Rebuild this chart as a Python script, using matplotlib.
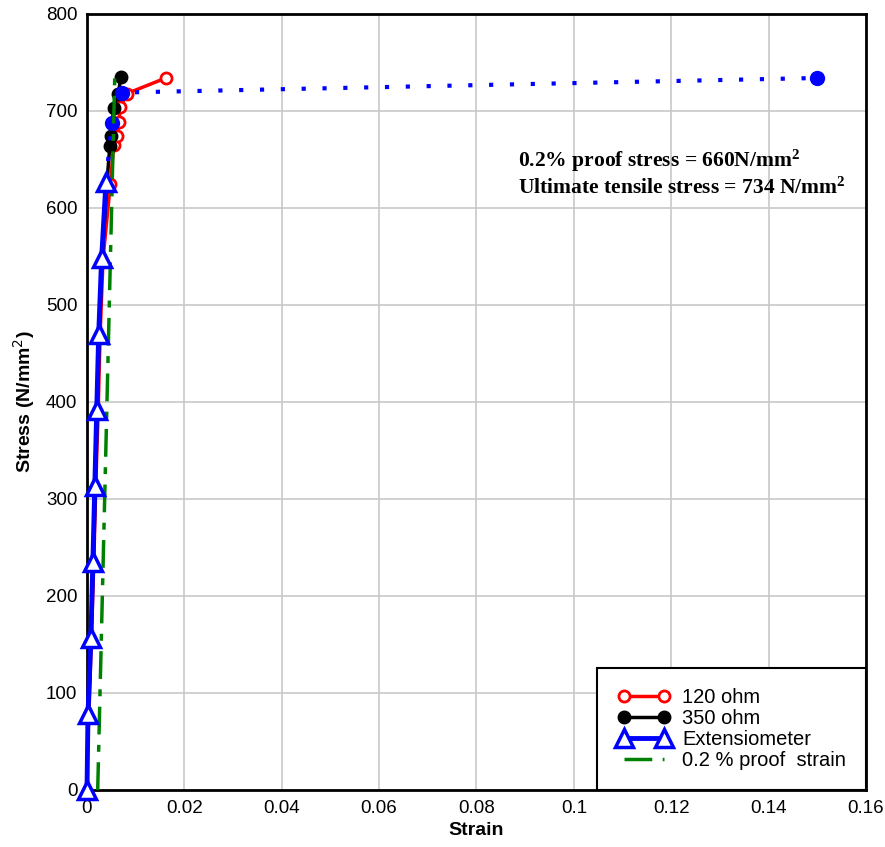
import matplotlib
matplotlib.use("Agg")
import matplotlib.pyplot as plt

# Data
stress_120 = [44, 78, 157, 235, 313, 392, 470, 548, 625, 665, 674, 689, 704, 718, 734]
strain_120 = [0.0001, 0.0004, 0.0009, 0.0014, 0.0018, 0.0023, 0.0027, 0.0033, 0.0048,
              0.0055, 0.0062, 0.0066, 0.0068, 0.0082, 0.0162]
stress_350 = [44, 78, 157, 235, 313, 392, 470, 548, 627, 664, 674, 703, 718, 735]
strain_350 = [0.0001, 0.0003, 0.0008, 0.0013, 0.0017, 0.0021, 0.0025, 0.0031, 0.0041,
              0.0047, 0.0049, 0.0055, 0.0064, 0.0070]
stress_ext = [0, 78, 157, 235, 313, 392, 470, 548, 627]
strain_ext = [0, 0.0002, 0.0008, 0.0012, 0.0016, 0.0020, 0.0024, 0.0030, 0.0039]
stress_ext2 = [627, 688, 719, 734]
strain_ext2 = [0.0039, 0.0051, 0.0072, 0.150]
proof_strain = [0.0022, 0.0057]
proof_stress = [0, 735]

x_ticks = [0, 0.02, 0.04, 0.06, 0.08, 0.1, 0.12, 0.14, 0.16]
x_ticklabels = ["0", "0.02", "0.04", "0.06", "0.08", "0.1", "0.12", "0.14", "0.16"]
y_ticks = [0, 100, 200, 300, 400, 500, 600, 700, 800]

plt.rcParams['font.family'] = ['Liberation Sans', 'DejaVu Sans']
plt.rcParams['mathtext.rm'] = 'Liberation Serif:bold'
plt.rcParams['mathtext.bf'] = 'Liberation Serif:bold'
plt.rcParams['mathtext.it'] = 'Liberation Serif:bold'

fig = plt.figure(figsize=(8.85, 8.47), dpi=100)
ax = fig.add_axes([0.0983, 0.0673, 0.8802, 0.9162])

ax.plot(strain_120, stress_120, color='red', lw=2.5, marker='o', ms=8,
        mfc='white', mec='red', mew=2, markevery=list(range(8, len(stress_120))),
        label='120 ohm', zorder=3)
ax.plot(strain_350, stress_350, color='black', lw=2.5, marker='o', ms=9,
        mfc='black', mec='black', markevery=list(range(9, len(stress_350))),
        label='350 ohm', zorder=3)
ax.plot(strain_ext2, stress_ext2, color='blue', lw=3, ls=(0, (1, 4)),
        marker='o', ms=10, mfc='blue', mec='blue', markevery=[1, 2, 3], zorder=4)
ax.plot(strain_ext, stress_ext, color='blue', lw=3.5, marker='^', ms=13,
        mfc='white', mec='blue', mew=2.5, label='Extensiometer', zorder=5,
        clip_on=False)
ax.plot(proof_strain, proof_stress, color='green', lw=2.5, ls=(0, (8, 3, 2, 3)),
        label='0.2 % proof  strain', zorder=4)

ax.set_xlim(0, 0.16)
ax.set_ylim(0, 800)
ax.set_xticks(x_ticks)
ax.set_xticklabels(x_ticklabels)
ax.set_yticks(y_ticks)
ax.tick_params(axis='both', length=0, labelsize=13.5, pad=7)
ax.grid(True, color='#c8c8c8', lw=1.2)
ax.set_axisbelow(True)
for s in ax.spines.values():
    s.set_linewidth(2)
    s.set_color('black')

ax.set_xlabel('Strain', fontsize=14, fontweight='bold', labelpad=4)
ylab = ax.set_ylabel('Stress (N/mm$^{2}$)', fontsize=14, fontweight='bold', labelpad=6)
ylab.set_math_fontfamily('dejavusans')

ax.text(0.0885, 636,
        '0.2% proof stress = 660N/mm$^{2}$\nUltimate tensile stress = 734 N/mm$^{2}$',
        family=['Liberation Serif'], fontweight='bold', fontsize=15.5, va='center',
        linespacing=1.2, math_fontfamily='custom')

leg = ax.legend(loc='lower right', fontsize=14.5, numpoints=2, fancybox=False,
                framealpha=1, edgecolor='black', borderpad=1.0, handlelength=2.6,
                labelspacing=0.1, borderaxespad=0, handletextpad=0.6)
leg.get_frame().set_linewidth(1.5)

fig.savefig('out.png', dpi=100)
